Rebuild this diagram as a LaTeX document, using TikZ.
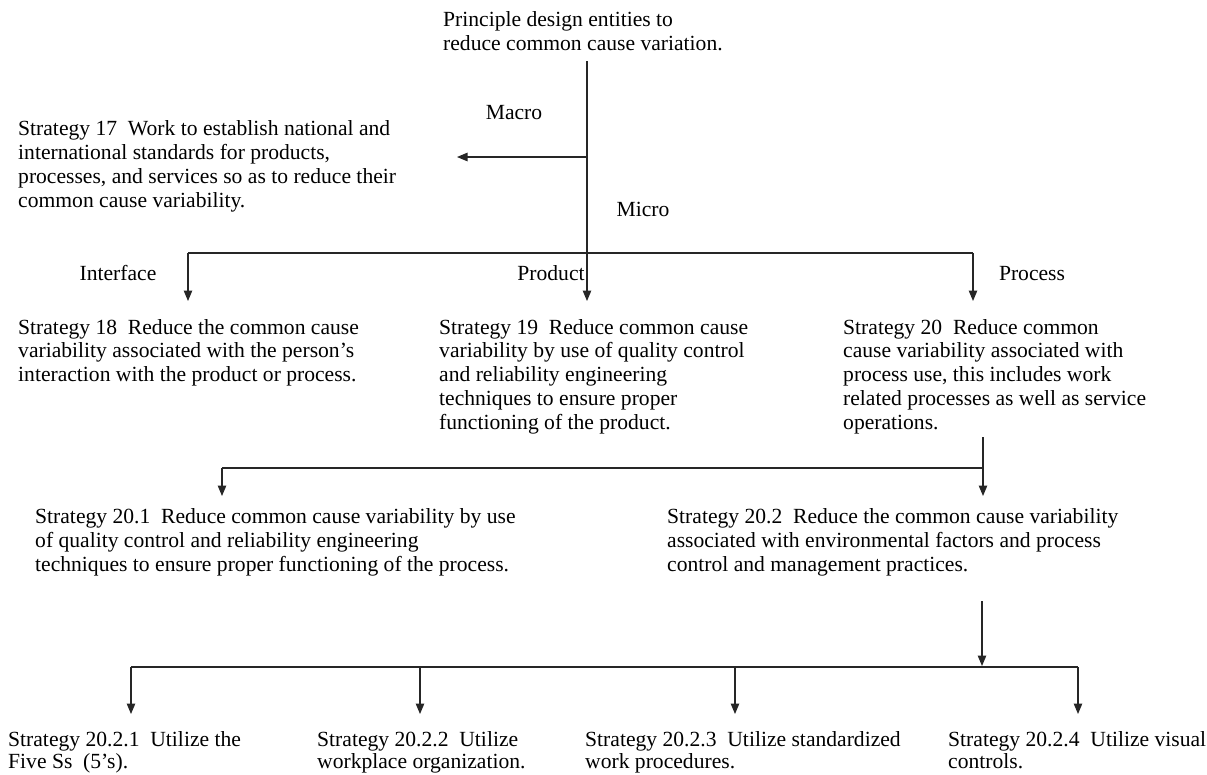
\documentclass[tikz,border=0pt]{standalone}
\usepackage{fontspec}
\setmainfont{Liberation Serif}
\usetikzlibrary{arrows.meta}
\begin{document}
\begin{tikzpicture}[x=1pt,y=-1pt,
  % multi-line blocks are anchored at the baseline of their last line
  txt/.style={inner sep=0pt,anchor=base west,align=left,
    font=\fontsize{21.6}{23.8}\selectfont},
  txtb/.style={txt,font=\fontsize{21.6}{21.5}\selectfont},
  lbl/.style={inner sep=0pt,anchor=base,font=\fontsize{21.6}{23.8}\selectfont},
  link/.style={line width=1.1pt,draw=black!85},
  arr/.style={link,-{Triangle[length=10.5pt,width=8.5pt]}}]
\fill[white] (0,0) rectangle (1207,774);
\useasboundingbox (0,0) rectangle (1207,774);

% text blocks
\node[txt] (top) at (443,50) {Principle design entities to\\reduce common cause variation.};
\node[txt] (s17) at (18,207) {Strategy 17\ \ Work to establish national and\\international standards for products,\\processes, and services so as to reduce their\\common cause variability.};
\node[txt] (s18) at (18,381.6) {Strategy 18\ \ Reduce the common cause\\variability associated with the person's\\interaction with the product or process.};
\node[txt] (s19) at (439,429.2) {Strategy 19\ \ Reduce common cause\\variability by use of quality control\\and reliability engineering\\techniques to ensure proper\\functioning of the product.};
\node[txt] (s20) at (843,429.2) {Strategy 20\ \ Reduce common\\cause variability associated with\\process use, this includes work\\related processes as well as service\\operations.};
\node[txt] (s201) at (35,571) {Strategy 20.1\ \ Reduce common cause variability by use\\of quality control and reliability engineering\\techniques to ensure proper functioning of the process.};
\node[txt] (s202) at (667,571) {Strategy 20.2\ \ Reduce the common cause variability\\associated with environmental factors and process\\control and management practices.};
\node[txtb] (s2021) at (8,768) {Strategy 20.2.1\ \ Utilize the\\Five Ss\ \ (5's).};
\node[txtb] (s2022) at (317,768) {Strategy 20.2.2\ \ Utilize\\workplace organization.};
\node[txtb] (s2023) at (585,768) {Strategy 20.2.3\ \ Utilize standardized\\work procedures.};
\node[txtb] (s2024) at (948,768) {Strategy 20.2.4\ \ Utilize visual\\controls.};

% branch labels
\node[lbl] (macro) at (514,119) {Macro};
\node[lbl] (micro) at (643,216) {Micro};
\node[lbl] (iface) at (118,280) {Interface};
\node[lbl] (prod) at (551,280) {Product};
\node[lbl] (proc) at (1032,280) {Process};

% junction points and arrow tips
\coordinate (t0) at (587,61);
\coordinate (jm) at (587,157);
\coordinate (tm) at (457,157);
\coordinate (b1l) at (188,253);
\coordinate (b1r) at (973,253);
\coordinate (a18) at (188,301);
\coordinate (a19) at (587,301);
\coordinate (a20) at (973,301);
\coordinate (t20) at (983,437);
\coordinate (b2l) at (222,468);
\coordinate (b2r) at (983,468);
\coordinate (a201) at (222,496);
\coordinate (a202) at (983,496);
\coordinate (t202) at (982,601);
\coordinate (b3) at (982,666);
\coordinate (b3l) at (131,667);
\coordinate (b3r) at (1078,667);
\coordinate (c2) at (420,667);
\coordinate (c3) at (735,667);
\coordinate (a1) at (131,714);
\coordinate (a2) at (420,714);
\coordinate (a3) at (735,714);
\coordinate (a4) at (1078,714);

% connectors
\draw[arr] (t0) -- (a19);
\draw[arr] (jm) -- (tm);
\draw[link] (b1l) -- (b1r);
\draw[arr] (b1l) -- (a18);
\draw[arr] (b1r) -- (a20);
\draw[link] (t20) -- (b2r);
\draw[link] (b2l) -- (b2r);
\draw[arr] (b2l) -- (a201);
\draw[arr] (b2r) -- (a202);
\draw[arr] (t202) -- (b3);
\draw[link] (b3l) -- (b3r);
\draw[arr] (b3l) -- (a1);
\draw[arr] (c2) -- (a2);
\draw[arr] (c3) -- (a3);
\draw[arr] (b3r) -- (a4);
\end{tikzpicture}
\end{document}
